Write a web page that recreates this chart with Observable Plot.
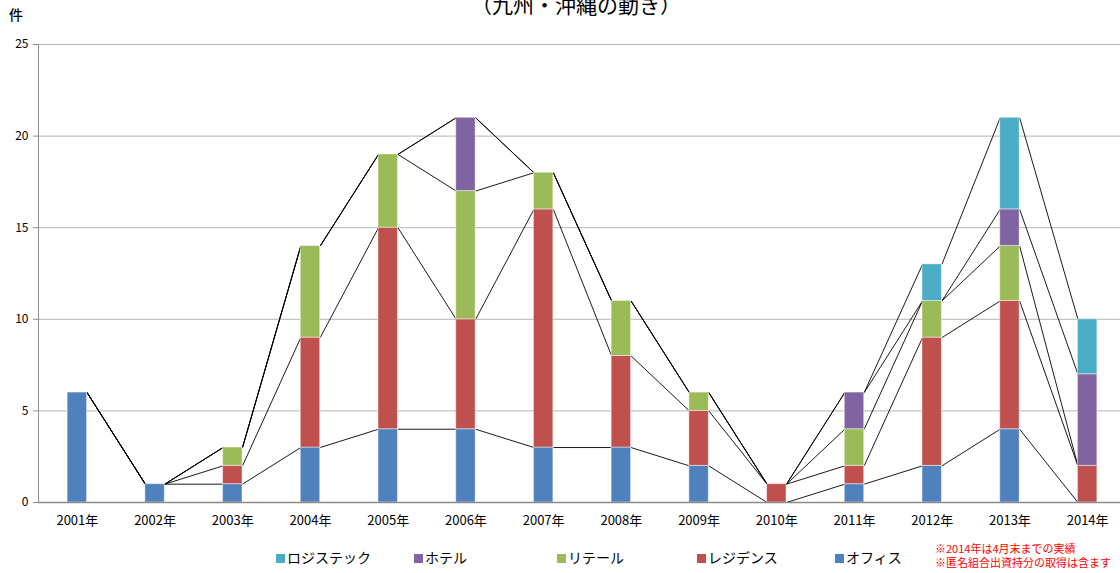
<!DOCTYPE html>
<html><head><meta charset="utf-8">
<script src="https://cdn.jsdelivr.net/npm/d3@7"></script>
<script src="https://cdn.jsdelivr.net/npm/@observablehq/plot@0.6"></script>
<style>
html,body{margin:0;padding:0;overflow:hidden;background:#fff;}
body{font-family:"Noto Sans CJK JP","Noto Sans",sans-serif;}
#wrap{position:relative;width:1130px;height:573px;}
#title{position:absolute;left:0;width:1152px;text-align:center;top:-8px;font-size:21px;line-height:24px;color:#000;}
#unit{position:absolute;left:9px;top:4px;font-size:14px;color:#000;font-weight:500;}
#chart{position:absolute;left:0;top:0;}
#legend{position:absolute;top:548px;left:0;font-size:14px;line-height:18px;}
.lg{position:absolute;white-space:nowrap;}
.sw{display:inline-block;width:9px;height:9px;margin-right:2px;vertical-align:0px;}
.note{position:absolute;left:935px;font-size:11px;line-height:12px;color:#ff0000;white-space:nowrap;}
</style></head>
<body>
<div id="wrap">
<div id="title">（九州・沖縄の動き）</div>
<div id="unit">件</div>
<div id="chart"></div>
<div id="legend"></div>
<div class="note" style="top:542px">※2014年は4月末までの実績</div>
<div class="note" style="top:556px">※匿名組合出資持分の取得は含ます</div>
</div>
<script>
const years = [2001,2002,2003,2004,2005,2006,2007,2008,2009,2010,2011,2012,2013,2014];
const office    = [6,1,1,3,4,4,3,3,2,0,1,2,4,0];
const residence = [0,0,1,6,11,6,13,5,3,1,1,7,7,2];
const retail    = [0,0,1,5,4,7,2,3,1,0,2,2,3,0];
const hotel     = [0,0,0,0,0,4,0,0,0,0,2,0,2,5];
const logistics = [0,0,0,0,0,0,0,0,0,0,0,2,5,3];
const seriesNames = ["オフィス","レジデンス","リテール","ホテル","ロジステック"];
const seriesValues = [office,residence,retail,hotel,logistics];
const seriesColors = ["#4F81BD","#C0504D","#9BBB59","#8064A2","#4BACC6"];
const legendOrder = ["ロジステック","ホテル","リテール","レジデンス","オフィス"];
const yTicks = [0,5,10,15,20,25];

const halfBar = 0.125;
const rows = [];
years.forEach((y,i)=>{
  seriesNames.forEach((s,k)=>{
    rows.push({i, year:y, type:s, value:seriesValues[k][i]});
  });
});
// cumulative tops for series lines
const cum = seriesNames.map((s,k)=>years.map((y,i)=>d3.sum(seriesValues.slice(0,k+1),v=>v[i])));
const links = [];
cum.forEach((c,k)=>{
  for(let i=0;i<years.length-1;i++){
    links.push({i1:i, i2:i+1, y1:c[i], y2:c[i+1]});
  }
});

const chart = Plot.plot({
  width:1130, height:530,
  marginLeft:38, marginRight:4, marginTop:44, marginBottom:28,
  style:{fontFamily:'"Noto Sans CJK JP","Noto Sans",sans-serif', color:"#000", background:"transparent"},
  x:{domain:[-0.5, years.length-0.5], axis:null},
  y:{domain:[0,25], axis:null},
  color:{domain:seriesNames, range:seriesColors},
  marks:[
    Plot.gridY(yTicks.slice(1), {stroke:"#b4b4b4", strokeOpacity:1, strokeWidth:1}),
    Plot.axisY({ticks:yTicks, tickSize:5, tickPadding:5, label:null, fontSize:12, stroke:"#8c8c8c"}),
    Plot.axisX({ticks:d3.range(years.length), tickFormat:i=>years[i]+"年", tickSize:0, tickPadding:13, label:null, fontSize:13}),
    Plot.link(links, {x1:d=>d.i1+halfBar, x2:d=>d.i2-halfBar, y1:"y1", y2:"y2", stroke:"#000", strokeWidth:0.9}),
    Plot.rectY(rows.filter(d=>d.value>0), Plot.stackY({
      x1:d=>d.i-halfBar, x2:d=>d.i+halfBar, y:"value", fill:"type", order:seriesNames,
      stroke:"#ffffff", strokeOpacity:0.45, strokeWidth:1
    })),
    Plot.ruleY([0], {stroke:"#8c8c8c", strokeWidth:1.6}),
    Plot.ruleX([-0.5], {stroke:"#8c8c8c", strokeWidth:1})
  ]
});
document.getElementById("chart").appendChild(chart);

const lgX = [276,414,557,697,835];
const leg = document.getElementById("legend");
legendOrder.forEach((n,j)=>{
  const k = seriesNames.indexOf(n);
  const el = document.createElement("div");
  el.className="lg";
  el.style.left = lgX[j]+"px";
  el.innerHTML = `<span class="sw" style="background:${seriesColors[k]}"></span>${n}`;
  leg.appendChild(el);
});
</script>
</body></html>
